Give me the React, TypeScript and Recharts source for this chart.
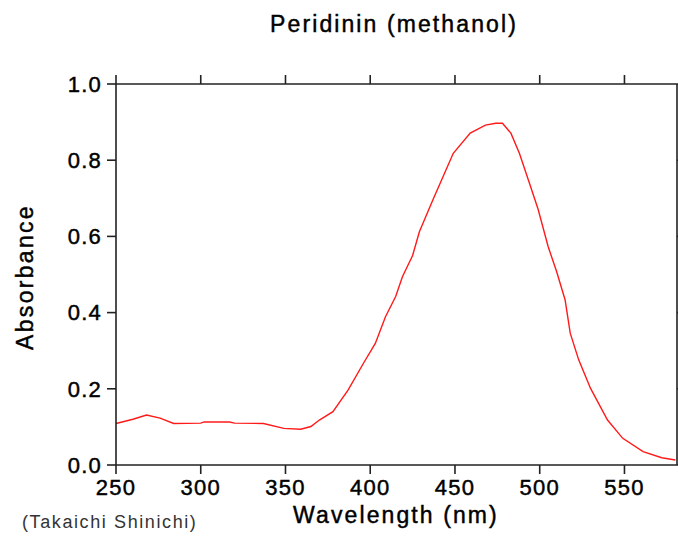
import { LineChart, Line, XAxis, YAxis } from 'recharts';

const wavelengths = [250, 260, 268, 276, 284, 300, 302, 317, 320, 337, 349, 359, 365, 370, 378, 387, 396, 403, 409, 415, 419, 425, 429, 437, 443, 449, 459, 468, 474, 478, 483, 488, 494, 499, 505, 510, 515, 518, 523, 530, 540, 549, 561, 572, 580];
const absorbance = [0.109, 0.12, 0.131, 0.123, 0.109, 0.11, 0.113, 0.113, 0.11, 0.109, 0.096, 0.094, 0.101, 0.118, 0.14, 0.197, 0.267, 0.319, 0.389, 0.442, 0.494, 0.55, 0.612, 0.696, 0.757, 0.818, 0.871, 0.892, 0.897, 0.897, 0.871, 0.818, 0.739, 0.672, 0.573, 0.507, 0.433, 0.346, 0.276, 0.201, 0.118, 0.07, 0.035, 0.019, 0.013];
const xTicks = [250, 300, 350, 400, 450, 500, 550];
const yTicks = [0, 0.2, 0.4, 0.6, 0.8, 1.0];

const data = wavelengths.map((w, i) => ({ wl: w, abs: absorbance[i] }));

const font = '"Liberation Sans", Arial, sans-serif';
const axisStroke = '#222';
const tickStyle = { fill: '#000', stroke: '#000', strokeWidth: 0.45, fontSize: 22, fontFamily: font, letterSpacing: 1.2 };

export default function App() {
  return (
    <div style={{ position: 'absolute', left: 0, top: 0, width: 678, height: 538, background: '#fff' }}>
      <LineChart width={678} height={538} data={data} margin={{ top: 83, right: 0, bottom: 0, left: 0 }}>
        <XAxis
          dataKey="wl"
          type="number"
          domain={[250, 581]}
          ticks={xTicks}
          height={73}
          tickSize={9}
          tickMargin={5}
          stroke={axisStroke}
          strokeWidth={1.6}
          tick={tickStyle}
        />
        <XAxis
          xAxisId="top"
          dataKey="wl"
          orientation="top"
          type="number"
          domain={[250, 581]}
          ticks={xTicks}
          height={1}
          tickSize={9}
          stroke={axisStroke}
          strokeWidth={1.6}
          tickFormatter={() => ''}
        />
        <YAxis
          type="number"
          domain={[0, 1]}
          ticks={yTicks}
          width={116}
          tickSize={9}
          tickMargin={5}
          stroke={axisStroke}
          strokeWidth={1.6}
          tick={tickStyle}
          tickFormatter={(v: number) => v.toFixed(1)}
        />
        <YAxis
          yAxisId="right"
          orientation="right"
          type="number"
          domain={[0, 1]}
          ticks={yTicks}
          width={1}
          tickSize={9}
          stroke={axisStroke}
          strokeWidth={1.6}
          tickFormatter={() => ''}
        />
        <Line
          xAxisId="top"
          yAxisId="right"
          type="linear"
          dataKey="abs"
          stroke="none"
          dot={false}
          isAnimationActive={false}
        />
        <Line
          type="linear"
          dataKey="abs"
          stroke="#ff1a1a"
          strokeWidth={1.4}
          dot={false}
          isAnimationActive={false}
        />
      </LineChart>
      <svg width={678} height={538} style={{ position: 'absolute', left: 0, top: 0, pointerEvents: 'none' }}>
        <g fontFamily={font} fill="#000" stroke="#000" strokeWidth={0.45}>
          <text x={394} y={32} textAnchor="middle" fontSize={23} letterSpacing={2.1}>
            Peridinin (methanol)
          </text>
          <text x={396} y={523} textAnchor="middle" fontSize={23} letterSpacing={2.1}>
            Wavelength (nm)
          </text>
          <text x={33} y={277} textAnchor="middle" fontSize={23} letterSpacing={2.3} transform="rotate(-90 33 277)">
            Absorbance
          </text>
        </g>
        <text x={22} y={528} fontFamily={font} fontSize={18} letterSpacing={1.6} fill="#333">
          (Takaichi Shinichi)
        </text>
      </svg>
    </div>
  );
}
